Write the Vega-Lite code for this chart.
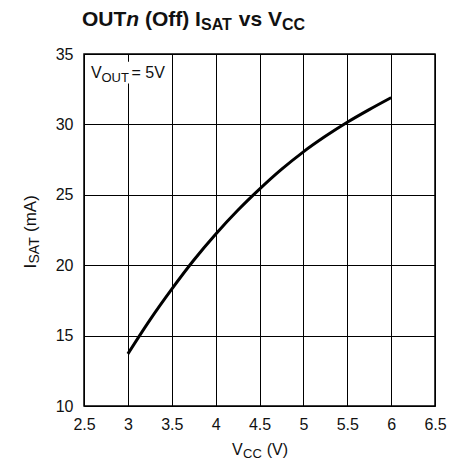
{
  "$schema": "https://vega.github.io/schema/vega-lite/v6.json",
  "width": 351,
  "height": 352,
  "autosize": "none",
  "padding": {"left": 84, "top": 54, "right": 15, "bottom": 60},
  "config": {
    "view": {"stroke": "#000000", "strokeWidth": 1.5},
    "font": "Liberation Sans",
    "text": {"font": "Liberation Sans", "color": "#111111"},
    "axis": {
      "grid": true, "gridColor": "#000000", "gridOpacity": 1, "gridWidth": 1,
      "ticks": false, "domain": false,
      "labelFont": "Liberation Sans", "labelFontSize": 16, "labelColor": "#111111"
    }
  },
  "datasets": {
    "curve": [
      {"vcc": 3.0, "isat": 13.7},
      {"vcc": 3.25, "isat": 16.1},
      {"vcc": 3.5, "isat": 18.3},
      {"vcc": 3.75, "isat": 20.35},
      {"vcc": 4.0, "isat": 22.2},
      {"vcc": 4.25, "isat": 23.88},
      {"vcc": 4.5, "isat": 25.4},
      {"vcc": 4.75, "isat": 26.8},
      {"vcc": 5.0, "isat": 28.05},
      {"vcc": 5.25, "isat": 29.15},
      {"vcc": 5.5, "isat": 30.15},
      {"vcc": 5.75, "isat": 31.05},
      {"vcc": 6.0, "isat": 31.9}
    ]
  },
  "layer": [
    {
      "data": {"name": "curve"},
      "mark": {"type": "line", "color": "#000000", "strokeWidth": 3, "interpolate": "monotone"},
      "encoding": {
        "x": {"field": "vcc", "type": "quantitative",
              "scale": {"domain": [2.5, 6.5], "nice": false, "zero": false},
              "axis": {"title": null, "values": [2.5, 3, 3.5, 4, 4.5, 5, 5.5, 6, 6.5], "format": "~g", "labelPadding": 10, "labelOverlap": false, "labelFlush": false}},
        "y": {"field": "isat", "type": "quantitative",
              "scale": {"domain": [10, 35], "nice": false, "zero": false},
              "axis": {"title": null, "values": [10, 15, 20, 25, 30, 35], "labelPadding": 11, "labelOverlap": false, "labelFlush": false}}
      }
    },
    {
      "data": {"values": [{"a": 1}]},
      "mark": {"type": "rect", "fill": "#ffffff"},
      "encoding": {
        "x": {"datum": 2.52}, "x2": {"datum": 3.47},
        "y": {"datum": 32.9}, "y2": {"datum": 34.45}
      }
    },
    {
      "data": {"values": [{"t": "V"}]},
      "mark": {"type": "text", "align": "left", "baseline": "alphabetic", "fontSize": 16, "dx": 7, "dy": 24},
      "encoding": {"x": {"datum": 2.5}, "y": {"datum": 35}, "text": {"field": "t"}}
    },
    {
      "data": {"values": [{"t": "OUT"}]},
      "mark": {"type": "text", "align": "left", "baseline": "alphabetic", "fontSize": 13, "dx": 17.5, "dy": 27.5},
      "encoding": {"x": {"datum": 2.5}, "y": {"datum": 35}, "text": {"field": "t"}}
    },
    {
      "data": {"values": [{"t": "= 5V"}]},
      "mark": {"type": "text", "align": "left", "baseline": "alphabetic", "fontSize": 16, "dx": 47.5, "dy": 24},
      "encoding": {"x": {"datum": 2.5}, "y": {"datum": 35}, "text": {"field": "t"}}
    },
    {
      "data": {"values": [{"t": "OUT"}]},
      "mark": {"type": "text", "align": "left", "baseline": "alphabetic", "fontSize": 21, "fontWeight": "bold", "dx": -2, "dy": -28},
      "encoding": {"x": {"datum": 2.5}, "y": {"datum": 35}, "text": {"field": "t"}}
    },
    {
      "data": {"values": [{"t": "n"}]},
      "mark": {"type": "text", "align": "left", "baseline": "alphabetic", "fontSize": 21, "fontWeight": "bold", "fontStyle": "italic", "dx": 42.3, "dy": -28},
      "encoding": {"x": {"datum": 2.5}, "y": {"datum": 35}, "text": {"field": "t"}}
    },
    {
      "data": {"values": [{"t": "(Off) I"}]},
      "mark": {"type": "text", "align": "left", "baseline": "alphabetic", "fontSize": 21, "fontWeight": "bold", "dx": 60.9, "dy": -28},
      "encoding": {"x": {"datum": 2.5}, "y": {"datum": 35}, "text": {"field": "t"}}
    },
    {
      "data": {"values": [{"t": "SAT"}]},
      "mark": {"type": "text", "align": "left", "baseline": "alphabetic", "fontSize": 16, "fontWeight": "bold", "dx": 117, "dy": -24},
      "encoding": {"x": {"datum": 2.5}, "y": {"datum": 35}, "text": {"field": "t"}}
    },
    {
      "data": {"values": [{"t": "vs V"}]},
      "mark": {"type": "text", "align": "left", "baseline": "alphabetic", "fontSize": 21, "fontWeight": "bold", "dx": 154.8, "dy": -28},
      "encoding": {"x": {"datum": 2.5}, "y": {"datum": 35}, "text": {"field": "t"}}
    },
    {
      "data": {"values": [{"t": "CC"}]},
      "mark": {"type": "text", "align": "left", "baseline": "alphabetic", "fontSize": 16, "fontWeight": "bold", "dx": 198, "dy": -24},
      "encoding": {"x": {"datum": 2.5}, "y": {"datum": 35}, "text": {"field": "t"}}
    },
    {
      "data": {"values": [{"t": "V"}]},
      "mark": {"type": "text", "align": "left", "baseline": "alphabetic", "fontSize": 16, "dx": -27.5, "dy": 49},
      "encoding": {"x": {"datum": 4.5}, "y": {"datum": 10}, "text": {"field": "t"}}
    },
    {
      "data": {"values": [{"t": "CC"}]},
      "mark": {"type": "text", "align": "left", "baseline": "alphabetic", "fontSize": 13, "dx": -16.5, "dy": 52},
      "encoding": {"x": {"datum": 4.5}, "y": {"datum": 10}, "text": {"field": "t"}}
    },
    {
      "data": {"values": [{"t": "(V)"}]},
      "mark": {"type": "text", "align": "left", "baseline": "alphabetic", "fontSize": 16, "dx": 7.2, "dy": 49},
      "encoding": {"x": {"datum": 4.5}, "y": {"datum": 10}, "text": {"field": "t"}}
    },
    {
      "data": {"values": [{"t": "I"}]},
      "mark": {"type": "text", "align": "left", "baseline": "alphabetic", "fontSize": 17, "angle": 270, "dx": -38.5, "dy": -48},
      "encoding": {"x": {"datum": 2.5}, "y": {"datum": 22.5}, "text": {"field": "t"}}
    },
    {
      "data": {"values": [{"t": "SAT"}]},
      "mark": {"type": "text", "align": "left", "baseline": "alphabetic", "fontSize": 14, "angle": 270, "dx": -33.5, "dy": -45},
      "encoding": {"x": {"datum": 2.5}, "y": {"datum": 22.5}, "text": {"field": "t"}}
    },
    {
      "data": {"values": [{"t": "(mA)"}]},
      "mark": {"type": "text", "align": "left", "baseline": "alphabetic", "fontSize": 17, "angle": 270, "dx": -2, "dy": -48},
      "encoding": {"x": {"datum": 2.5}, "y": {"datum": 22.5}, "text": {"field": "t"}}
    }
  ]
}
